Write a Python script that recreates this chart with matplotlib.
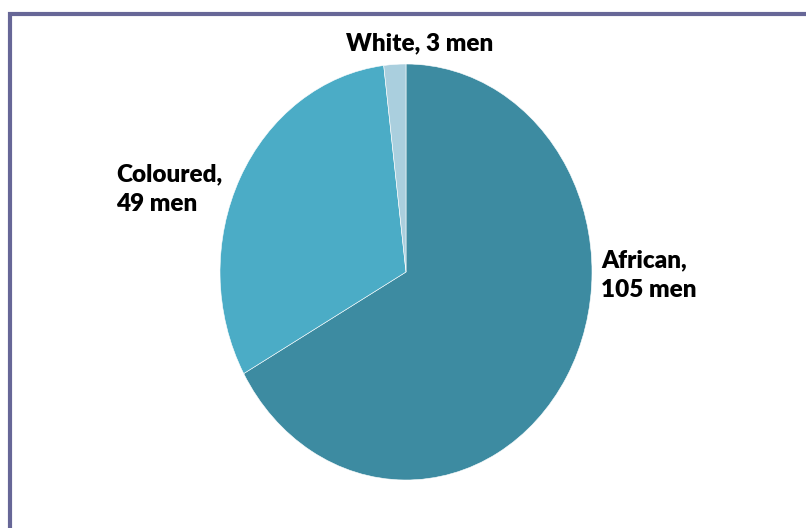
import matplotlib.pyplot as plt
from matplotlib.patches import Rectangle

# data
groups = ["African", "Coloured", "White"]
men = [105, 49, 3]
colours = ["#3d8ba1", "#4bacc6", "#aacfde"]

W, H = 806, 528
fig = plt.figure(figsize=(W / 100, H / 100), dpi=100)
ax = fig.add_axes([0, 0, 1, 1])

# pie drawn as ellipse: centre (406, 272) px, radii 186 x 208 px
cx, cy, rx, ry = 406, 272, 186, 208
ax.pie(men, colors=colours, startangle=90, counterclock=False,
       wedgeprops=dict(edgecolor="white", linewidth=0.4))
ax.set_aspect("auto")
ax.set_xlim(-cx / rx, (W - cx) / rx)
ax.set_ylim(-(H - cy) / ry, cy / ry)
ax.axis("off")

# outer frame (runs off the right and bottom edges)
fig.patches.append(Rectangle((10 / W, -0.2), 1.3, 1.2 - 14 / H,
                             transform=fig.transFigure, fill=False,
                             edgecolor="#676797", linewidth=3))

font = dict(family=["Lato", "DejaVu Sans"], fontsize=17.5, fontweight="heavy")
labels = [f"{g},\n{m} men" for g, m in zip(groups, men)]
labels[2] = f"{groups[2]}, {men[2]} men"

fig.text(601 / W, 1 - 275 / H, labels[0], ha="left", va="center",
         linespacing=1.45, **font)
fig.text(116 / W, 1 - 189 / H, labels[1], ha="left", va="center",
         linespacing=1.45, **font)
fig.text(420 / W, 1 - 43 / H, labels[2], ha="center", va="center", **font)

fig.savefig("out.png", dpi=100)
